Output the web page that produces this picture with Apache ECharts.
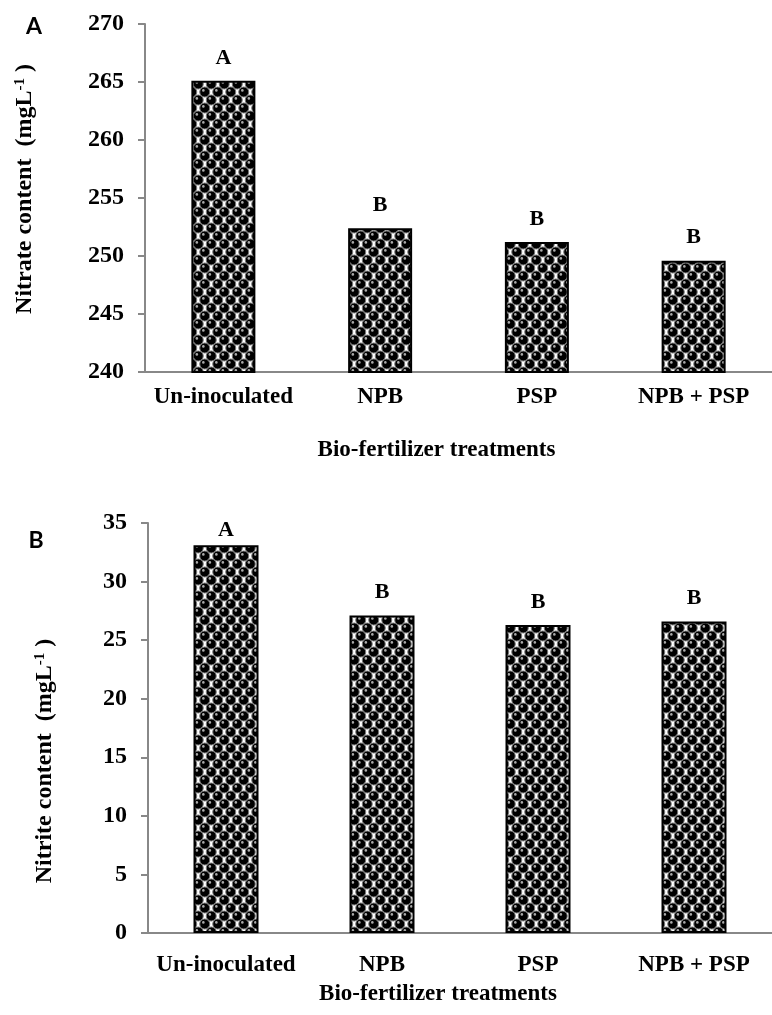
<!DOCTYPE html>
<html>
<head>
<meta charset="utf-8">
<script src="https://cdn.jsdelivr.net/npm/echarts@6/dist/echarts.min.js"></script>
<style>
html,body{margin:0;padding:0;background:#fff;}
#chart{width:772px;height:1015px;}
</style>
</head>
<body>
<div id="chart"></div>
<script>
// ---- data ----
const categories = ['Un-inoculated', 'NPB', 'PSP', 'NPB + PSP'];
const nitrate = [265.1, 252.4, 251.2, 249.6];
const nitrite = [33.1, 27.1, 26.3, 26.6];
const lettersNitrate = ['A', 'B', 'B', 'B'];
const lettersNitrite = ['A', 'B', 'B', 'B'];
const nitrateTicks = { min: 240, max: 270, interval: 5 };
const nitriteTicks = { min: 0, max: 35, interval: 5 };

// ---- pattern ----
function makePattern() {
  const w = 13, h = 16;
  const c = document.createElement('canvas');
  c.width = w; c.height = h;
  const g = c.getContext('2d');
  g.fillStyle = '#fff';
  g.fillRect(0, 0, w, h);
  const balls = [[3.25, 4], [9.75, 12], [-3.25, 12], [16.25, 4], [9.75, -4], [3.25, 20], [-3.25, -4], [16.25, 20]];
  balls.forEach(([x, y]) => {
    g.beginPath();
    g.arc(x, y, 5.0, 0, Math.PI * 2);
    g.fillStyle = '#000';
    g.fill();
    g.lineWidth = 1;
    g.strokeStyle = '#777';
    g.stroke();
    g.beginPath();
    g.arc(x - 1.4, y - 1.6, 1.3, 0, Math.PI * 2);
    g.fillStyle = '#aaa';
    g.fill();
  });
  return c;
}
const pattern = { image: makePattern(), repeat: 'repeat' };

const serif = 'Liberation Serif';
const axisGray = '#888888';

function yAxisCfg(gi, ticks) {
  return {
    type: 'value', gridIndex: gi,
    min: ticks.min, max: ticks.max, interval: ticks.interval,
    axisLine: { show: true, lineStyle: { color: axisGray, width: 2 } },
    axisTick: { show: true, length: 7, lineStyle: { color: axisGray, width: 2 } },
    splitLine: { show: false },
    axisLabel: { fontFamily: serif, fontWeight: 'bold', fontSize: 24, color: '#000', margin: 21 }
  };
}
function xAxisCfg(gi, margin, nameGap) {
  return {
    type: 'category', gridIndex: gi, data: categories,
    axisLine: { show: true, lineStyle: { color: axisGray, width: 2 } },
    axisTick: { show: false },
    axisLabel: { fontFamily: serif, fontWeight: 'bold', fontSize: 23, color: '#000', margin: margin, interval: 0 },
    name: 'Bio-fertilizer treatments', nameLocation: 'middle', nameGap: nameGap,
    nameTextStyle: { fontFamily: serif, fontWeight: 'bold', fontSize: 23, color: '#000', padding: [0, 44, 0, 0] }
  };
}
function seriesCfg(gi, values, letters, firstDist, dist, bw) {
  return {
    type: 'bar', xAxisIndex: gi, yAxisIndex: gi, barWidth: bw,
    data: values.map((v, i) => ({ value: v, label: { distance: i === 0 ? firstDist : dist } })),
    itemStyle: { color: pattern, borderColor: '#000', borderWidth: 2 },
    label: {
      show: true, position: 'top',
      formatter: p => letters[p.dataIndex],
      fontFamily: serif, fontWeight: 'bold', fontSize: 22, color: '#000'
    }
  };
}
function yName(x, y, main) {
  return {
    type: 'text', x: x, y: y, rotation: Math.PI / 2,
    style: {
      text: '{m|' + main + '  (mgL}{s|-1}{m| )}',
      align: 'center', verticalAlign: 'middle',
      rich: {
        m: { fontFamily: serif, fontWeight: 'bold', fontSize: 24, fill: '#000' },
        s: { fontFamily: serif, fontWeight: 'bold', fontSize: 15, fill: '#000', verticalAlign: 'top', padding: [0, 0, 9, 0] }
      }
    }
  };
}

const chart = echarts.init(document.getElementById('chart'), null, { renderer: 'canvas' });
chart.setOption({
  backgroundColor: '#fff',
  animation: false,
  grid: [
    { left: 145, top: 24, height: 348, width: 634 },
    { left: 148, top: 523, height: 410, width: 640 }
  ],
  xAxis: [xAxisCfg(0, 14, 67), xAxisCfg(1, 21, 50)],
  yAxis: [yAxisCfg(0, nitrateTicks), yAxisCfg(1, nitriteTicks)],
  series: [
    seriesCfg(0, nitrate, lettersNitrate, 12, 12, 64),
    seriesCfg(1, nitrite, lettersNitrite, 4, 12, 65)
  ],
  graphic: [
    { type: 'text', x: 34, y: 27, style: { text: 'A', fontFamily: 'Lato', fontWeight: 'bold', fontSize: 23, fill: '#000', align: 'center', verticalAlign: 'middle' } },
    { type: 'text', x: 36, y: 541, style: { text: 'B', fontFamily: 'Lato', fontWeight: 'bold', fontSize: 23, fill: '#000', align: 'center', verticalAlign: 'middle' } },
    yName(25, 189, 'Nitrate content'),
    yName(45, 761, 'Nitrite content')
  ]
});
</script>
</body>
</html>
